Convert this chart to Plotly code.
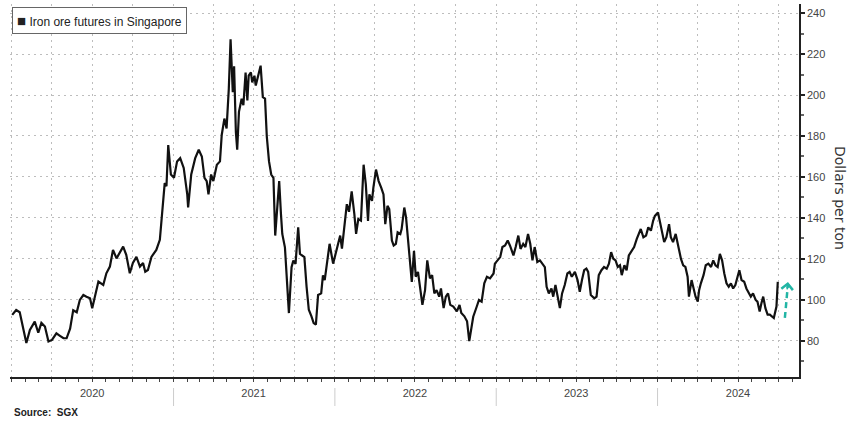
import pandas as pd
import plotly.graph_objects as go

# ---- data (SGX iron ore futures, $/t) ----
dates_2020 = ["2020-01-02","2020-01-11","2020-01-19","2020-01-23","2020-01-31","2020-02-03","2020-02-11","2020-02-22",
              "2020-03-01","2020-03-08","2020-03-16","2020-03-24","2020-04-01","2020-04-11","2020-04-19","2020-04-27",
              "2020-05-04","2020-05-12","2020-05-19","2020-05-27","2020-06-03","2020-06-11","2020-06-18","2020-06-26",
              "2020-07-01","2020-07-09","2020-07-15","2020-07-26","2020-08-02","2020-08-10","2020-08-17","2020-08-25",
              "2020-09-01","2020-09-09","2020-09-16","2020-09-24","2020-10-01","2020-10-09","2020-10-17","2020-10-24",
              "2020-10-29","2020-11-04","2020-11-12","2020-11-23","2020-12-01","2020-12-06","2020-12-12","2020-12-16",
              "2020-12-20","2020-12-26"]
prices_2020 = [92.7,95.1,94.0,90.2,82.0,79.0,85.4,89.4,
               84.0,88.8,87.0,79.7,80.5,83.7,82.5,81.3,
               81.3,86.0,95.0,94.0,100.0,102.4,101.6,100.8,
               96.0,103.3,109.0,107.3,113.0,116.3,124.4,120.3,
               122.7,126.0,122.0,113.0,118.0,121.0,116.3,118.0,
               113.8,114.6,121.0,124.4,129.3,140.6,157.0,155.5,
               175.6,161.2]

dates_2021 = ["2021-01-02","2021-01-09","2021-01-16","2021-01-24","2021-02-01","2021-02-03","2021-02-10","2021-02-19",
              "2021-02-27","2021-03-06","2021-03-12","2021-03-17","2021-03-21","2021-03-27","2021-04-01","2021-04-09",
              "2021-04-16","2021-04-20","2021-04-26","2021-05-01","2021-05-06","2021-05-10","2021-05-15","2021-05-18",
              "2021-05-22","2021-05-25","2021-05-29","2021-06-04","2021-06-08","2021-06-13","2021-06-17","2021-06-20",
              "2021-06-25","2021-06-28","2021-07-03","2021-07-06","2021-07-12","2021-07-17","2021-07-22","2021-07-27",
              "2021-07-31","2021-08-05","2021-08-10","2021-08-15","2021-08-19","2021-08-24","2021-08-28","2021-09-01",
              "2021-09-04","2021-09-10","2021-09-19","2021-09-25","2021-09-29","2021-10-04","2021-10-10","2021-10-14",
              "2021-10-19","2021-10-24","2021-10-29","2021-11-03","2021-11-09","2021-11-14","2021-11-19","2021-11-24",
              "2021-12-01","2021-12-05","2021-12-09","2021-12-20","2021-12-28"]
prices_2021 = [159.6,167.6,169.2,164.4,151.5,145.1,161.2,169.2,
               173.3,170.0,159.6,158.0,151.5,161.2,158.0,166.0,
               167.6,180.5,188.5,183.7,203.0,227.2,201.4,214.0,
               182.0,173.3,191.8,198.2,195.0,211.0,197.4,209.4,
               211.0,206.2,209.4,204.6,209.4,214.3,199.0,198.2,
               179.7,167.6,161.2,159.6,131.4,145.1,158.0,141.9,
               132.2,125.7,93.6,116.0,119.2,117.6,135.4,122.5,
               121.7,120.9,106.4,95.2,92.0,88.7,87.9,102.4,
               103.2,112.0,109.7,127.4,117.7]

dates_2022 = ["2022-01-06","2022-01-13","2022-01-17","2022-01-24","2022-01-28","2022-02-02","2022-02-08","2022-02-14",
              "2022-02-18","2022-02-23","2022-03-01","2022-03-07","2022-03-12","2022-03-17","2022-03-20","2022-03-26",
              "2022-03-29","2022-04-04","2022-04-10","2022-04-16","2022-04-21","2022-04-25","2022-04-30","2022-05-04",
              "2022-05-10","2022-05-14","2022-05-19","2022-05-23","2022-05-29","2022-06-01","2022-06-07","2022-06-11",
              "2022-06-16","2022-06-22","2022-06-24","2022-06-29","2022-07-03","2022-07-08","2022-07-13","2022-07-18",
              "2022-07-24","2022-07-29","2022-08-04","2022-08-09","2022-08-14","2022-08-19","2022-08-25","2022-08-29",
              "2022-09-04","2022-09-09","2022-09-14","2022-09-19","2022-09-26","2022-10-04","2022-10-10","2022-10-14",
              "2022-10-21","2022-10-27","2022-11-01","2022-11-05","2022-11-10","2022-11-18","2022-11-23","2022-11-29",
              "2022-12-05","2022-12-11","2022-12-18","2022-12-26","2022-12-29"]
prices_2022 = [125.0,131.4,125.0,137.0,146.7,143.0,153.0,142.0,
               132.2,139.5,138.7,166.0,156.4,138.6,151.5,148.3,
               154.7,163.6,158.0,154.7,151.5,137.0,145.9,144.3,
               129.0,126.6,127.4,133.0,132.2,134.6,145.1,140.3,
               127.4,112.9,108.8,124.0,111.3,113.7,106.4,97.6,
               104.8,119.3,110.5,112.1,103.2,104.8,101.6,105.6,
               96.0,101.6,103.2,97.6,96.8,94.4,97.6,93.6,
               92.0,89.6,79.9,85.3,91.8,96.8,100.0,99.2,
               108.1,111.3,110.5,112.9,117.7]

dates_2023 = ["2023-01-10","2023-01-15","2023-01-21","2023-01-27","2023-02-01","2023-02-09","2023-02-14","2023-02-20",
              "2023-02-25","2023-03-03","2023-03-08","2023-03-14","2023-03-19","2023-03-24","2023-03-29","2023-04-04",
              "2023-04-10","2023-04-15","2023-04-21","2023-04-25","2023-04-30","2023-05-06","2023-05-10","2023-05-15",
              "2023-05-20","2023-05-25","2023-05-30","2023-06-05","2023-06-11","2023-06-16","2023-06-21","2023-06-28",
              "2023-07-04","2023-07-09","2023-07-14","2023-07-19","2023-07-24","2023-07-28","2023-08-03","2023-08-11",
              "2023-08-16","2023-08-21","2023-08-27","2023-09-02","2023-09-08","2023-09-13","2023-09-18","2023-09-23",
              "2023-09-28","2023-10-03","2023-10-08","2023-10-12","2023-10-18","2023-10-23","2023-10-28","2023-11-03",
              "2023-11-09","2023-11-15","2023-11-20","2023-11-24","2023-11-30","2023-12-06","2023-12-11","2023-12-17",
              "2023-12-22","2023-12-26"]
prices_2023 = [120.9,125.8,126.6,129.0,126.6,121.7,125.8,131.4,
               124.9,127.4,125.8,132.2,127.4,119.3,125.8,118.5,
               119.3,117.7,116.0,106.4,103.2,105.6,101.6,107.3,
               102.4,96.0,103.2,107.3,112.9,113.7,111.3,113.7,
               109.7,104.0,109.7,114.5,115.3,113.7,102.4,100.8,
               101.6,112.1,114.5,116.1,115.3,117.7,123.3,120.1,
               119.3,116.1,116.9,112.1,116.9,114.5,121.7,124.1,
               125.8,129.8,132.2,134.6,130.6,131.4,135.4,133.8,
               138.6,141.0]

dates_2024 = ["2024-01-02","2024-01-06","2024-01-11","2024-01-16","2024-01-21","2024-01-27","2024-01-31","2024-02-05",
              "2024-02-11","2024-02-17","2024-02-23","2024-02-28","2024-03-04","2024-03-09","2024-03-12","2024-03-18",
              "2024-03-22","2024-03-27","2024-04-01","2024-04-04","2024-04-08","2024-04-14","2024-04-19","2024-04-25",
              "2024-05-01","2024-05-06","2024-05-11","2024-05-16","2024-05-21","2024-05-26","2024-05-31","2024-06-05",
              "2024-06-10","2024-06-15","2024-06-20","2024-06-25","2024-06-30","2024-07-04","2024-07-09","2024-07-15",
              "2024-07-20","2024-07-26","2024-07-30","2024-08-04","2024-08-10","2024-08-14","2024-08-19","2024-08-23",
              "2024-08-27","2024-09-01","2024-09-06","2024-09-11","2024-09-16","2024-09-20","2024-09-26","2024-09-29"]
prices_2024 = [142.7,138.6,134.6,128.2,130.6,137.0,130.6,128.2,
               132.2,125.7,120.0,116.9,116.1,111.3,101.6,109.7,
               106.4,101.6,99.2,104.8,108.1,112.1,116.9,117.7,
               116.1,119.3,116.9,116.1,122.5,119.3,112.9,108.1,
               106.4,108.1,105.6,107.3,111.3,114.5,109.7,108.9,
               105.6,103.2,101.6,103.2,100.0,99.2,94.4,98.4,
               101.6,96.0,92.8,92.8,92.0,91.2,96.8,108.8]

year_labels = ["2020", "2021", "2022", "2023", "2024"]
y_ticks = [80, 100, 120, 140, 160, 180, 200, 220, 240]
series_name = "Iron ore futures in Singapore"
axis_title = "Dollars per ton"
source_text = "Source:  SGX"

dates = pd.to_datetime(dates_2020 + dates_2021 + dates_2022 + dates_2023 + dates_2024)
prices = prices_2020 + prices_2021 + prices_2022 + prices_2023 + prices_2024

# ---- layout geometry ----
W, H = 848, 425
ML, MR, MT, MB = 10, 49, 4, 48
PW = W - ML - MR
PH = H - MT - MB
x_range = ["2019-12-28", "2024-11-16"]
y_range = [62.4, 244.4]

TEAL = "#22b5a5"
FONT = "Liberation Sans, Arial, sans-serif"

fig = go.Figure()
fig.add_trace(go.Scatter(x=dates, y=prices, mode="lines",
                         line=dict(color="#111111", width=2.2), showlegend=False,
                         hoverinfo="x+y"))

# dashed teal arrow next to the last price (from recent low up to the last price)
last_date = dates[-1]
arrow_x = [last_date + pd.Timedelta(days=16), last_date + pd.Timedelta(days=23)]
arrow_y = [min(prices_2024[-8:]), prices_2024[-1] - 1.0]
fig.add_trace(go.Scatter(x=arrow_x, y=arrow_y, mode="lines",
                         line=dict(color=TEAL, width=2.5, dash="6px,4px"),
                         showlegend=False, hoverinfo="skip"))
fig.add_annotation(x=arrow_x[1], y=prices_2024[-1], ax=-1, ay=9,
                   xref="x", yref="y",
                   showarrow=True, arrowhead=4, arrowsize=1.4, arrowwidth=1.6,
                   arrowcolor=TEAL, text="", standoff=0)

# quarterly grid / tick positions, labels in the middle of each year
quarters = pd.date_range("2020-01-01", "2024-10-01", freq="QS")
qtext = [str(d.year) if d.month == 7 else "" for d in quarters]
months = pd.date_range("2020-01-01", "2024-11-01", freq="MS")

fig.update_xaxes(range=x_range, tickmode="array", tickvals=quarters, ticktext=qtext,
                 showgrid=True, gridcolor="#bdbdbd", griddash="2px,4px", gridwidth=1,
                 showline=True, linecolor="#222222", linewidth=1.5,
                 ticks="outside", ticklen=3, tickcolor="#444444", tickwidth=1,
                 ticklabelstandoff=2, automargin=False,
                 minor=dict(tickmode="array", tickvals=months, ticks="outside",
                            ticklen=3, tickcolor="#444444", showgrid=False),
                 tickfont=dict(family=FONT, size=11, color="#444444"),
                 zeroline=False, fixedrange=True)

fig.update_yaxes(range=y_range, side="right", tickmode="array", tickvals=y_ticks,
                 showgrid=True, gridcolor="#bdbdbd", griddash="2px,4px", gridwidth=1,
                 showline=True, linecolor="#222222", linewidth=1.5,
                 ticks="outside", ticklen=4, tickcolor="#222222", tickwidth=1.5,
                 automargin=False,
                 minor=dict(tickmode="array", tickvals=[70 + 20 * i for i in range(9)],
                            ticks="outside", ticklen=3, tickcolor="#666666", showgrid=False),
                 tickfont=dict(family=FONT, size=11, color="#444444"),
                 zeroline=False, fixedrange=True)

# year separators below the axis
for yr in range(2021, 2025):
    fig.add_shape(type="line", xref="x", yref="paper",
                  x0=f"{yr}-01-01", x1=f"{yr}-01-01",
                  y0=-11 / PH, y1=-29 / PH, line=dict(color="#cccccc", width=1))

# legend box
fig.add_annotation(xref="paper", yref="paper", x=2 / PW, y=1 - 3 / PH,
                   xanchor="left", yanchor="top", showarrow=False,
                   text="<span style='font-size:15px'>■</span> " + series_name,
                   font=dict(family=FONT, size=12, color="#222222"),
                   bordercolor="#666666", borderwidth=1, borderpad=4, bgcolor="white",
                   align="left")

# right-axis title, reading top to bottom
fig.add_annotation(xref="paper", yref="paper", x=(830 - ML) / PW,
                   y=1 - (198 - MT) / PH, xanchor="left", yanchor="middle",
                   showarrow=False, textangle=90, text=axis_title,
                   font=dict(family="DejaVu Sans, sans-serif", size=14, color="#333333"))

# source
fig.add_annotation(xref="paper", yref="paper", x=2 / PW, y=-(412 - MT - PH) / PH,
                   xanchor="left", yanchor="middle", showarrow=False,
                   text="<b>" + source_text + "</b>",
                   font=dict(family=FONT, size=10, color="#222222"))

fig.update_layout(width=W, height=H, margin=dict(l=ML, r=MR, t=MT, b=MB, autoexpand=False),
                  plot_bgcolor="white", paper_bgcolor="white", showlegend=False,
                  hovermode="closest")

fig.write_html("out.html", config={"displayModeBar": False},
               post_script="document.body.style.margin='0';document.body.style.padding='0';")
